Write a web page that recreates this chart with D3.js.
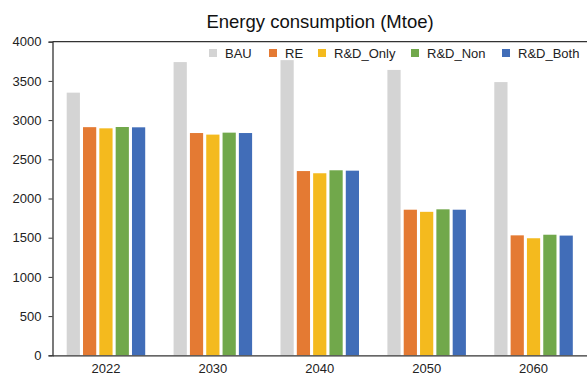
<!DOCTYPE html>
<html>
<head>
<meta charset="utf-8">
<script src="https://cdn.jsdelivr.net/npm/d3@7"></script>
<style>
  html, body { margin: 0; padding: 0; background: #fff; }
  svg { display: block; font-family: Arial, "Liberation Sans", sans-serif; }
</style>
</head>
<body>
<svg id="chart" width="587" height="376"></svg>
<script>
// Energy consumption by scenario, Mtoe
const years = ["2022", "2030", "2040", "2050", "2060"];
const scenarios = ["BAU", "RE", "R&D_Only", "R&D_Non", "R&D_Both"];
const BAU      = [3350, 3740, 3765, 3640, 3485];
const RE       = [2910, 2835, 2350, 1857, 1530];
const RD_Only  = [2895, 2815, 2322, 1830, 1493];
const RD_Non   = [2912, 2840, 2360, 1862, 1538];
const RD_Both  = [2908, 2835, 2355, 1857, 1527];
const yTicks = [0, 500, 1000, 1500, 2000, 2500, 3000, 3500, 4000];
const colors = ["#d4d4d4", "#e47a33", "#f4ba1e", "#71a84b", "#416db8"];

const seriesValues = [BAU, RE, RD_Only, RD_Non, RD_Both];
const rows = years.map((yr, i) => ({
  year: yr,
  values: scenarios.map((s, j) => ({ key: s, value: seriesValues[j][i] }))
}));

const svg = d3.select("#chart");
const margin = { left: 52.5, right: 0, top: 41.7, bottom: 355.3 };

const x0 = d3.scaleBand().domain(years).range([margin.left, 587]).paddingInner(0.235).paddingOuter(0.1175);
const x1 = d3.scaleBand().domain(scenarios).range([0, x0.bandwidth()]).paddingInner(0.19).paddingOuter(0.1);
const y = d3.scaleLinear().domain([0, 4000]).range([margin.bottom, margin.top]);

// Title
svg.append("text")
  .attr("x", 320).attr("y", 28)
  .attr("text-anchor", "middle")
  .attr("font-size", 18.5).attr("fill", "#111")
  .text("Energy consumption (Mtoe)");

// Bars
const groups = svg.append("g").selectAll("g").data(rows).join("g")
  .attr("transform", d => `translate(${x0(d.year)},0)`);
groups.selectAll("rect").data(d => d.values).join("rect")
  .attr("x", d => x1(d.key))
  .attr("width", x1.bandwidth())
  .attr("y", d => y(d.value))
  .attr("height", d => y(0) - y(d.value))
  .attr("fill", (d, i) => colors[i]);

// Y axis
const yAxis = d3.axisLeft(y).tickValues(yTicks).tickSize(4).tickPadding(7).tickFormat(d3.format("d"));
const gy = svg.append("g").attr("transform", `translate(${margin.left},0)`).call(yAxis);
gy.select(".domain").attr("stroke", "#333").attr("stroke-width", 1.3);
gy.selectAll(".tick line").attr("stroke", "#333");
gy.selectAll(".tick text").attr("font-size", 13).attr("fill", "#222").attr("font-family", "Arial, 'Liberation Sans', sans-serif");

// X axis
const xAxis = d3.axisBottom(x0).tickSize(0).tickPadding(8);
const gx = svg.append("g").attr("transform", `translate(0,${margin.bottom})`).call(xAxis);
gx.select(".domain").attr("stroke", "#333").attr("stroke-width", 1.3);
gx.selectAll(".tick text").attr("font-size", 13).attr("fill", "#222").attr("font-family", "Arial, 'Liberation Sans', sans-serif");

// Top frame line
svg.append("line")
  .attr("x1", margin.left).attr("x2", 587)
  .attr("y1", y(4000)).attr("y2", y(4000))
  .attr("stroke", "#333").attr("stroke-width", 1.3);

// Legend
const legendX = [209, 269, 318, 411, 502];
const legend = svg.append("g").selectAll("g").data(scenarios).join("g")
  .attr("transform", (d, i) => `translate(${legendX[i]},53)`);
legend.append("rect").attr("x", 0).attr("y", -4).attr("width", 8).attr("height", 8)
  .attr("fill", (d, i) => colors[i]);
legend.append("text").attr("x", 16).attr("y", 4.5)
  .attr("font-size", 13).attr("fill", "#222")
  .text(d => d);
</script>
</body>
</html>
